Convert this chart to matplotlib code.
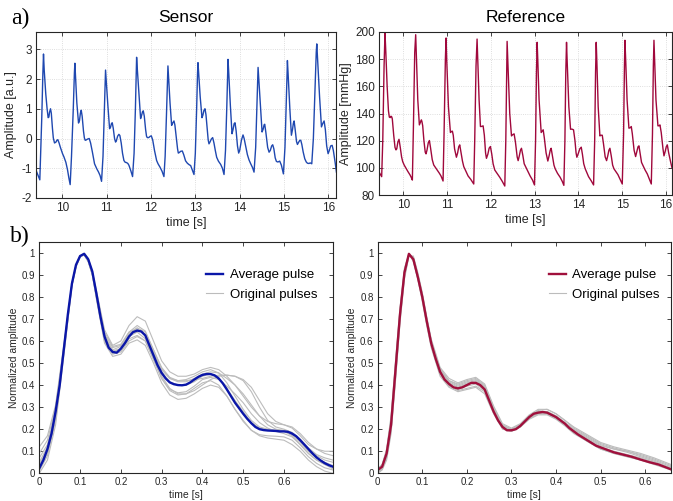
import matplotlib
matplotlib.use('Agg')
import matplotlib.pyplot as plt

plt.rcParams['font.family'] = ['Liberation Sans', 'DejaVu Sans']
plt.rcParams['axes.unicode_minus'] = False

# ---------------- top-left: sensor signal (time [s], amplitude [a.u.]) ----------------
sensor_t = [9.406, 9.45, 9.496, 9.54, 9.565, 9.579, 9.595, 9.63, 9.66, 9.684, 9.70, 9.715, 9.737,
            9.755, 9.78, 9.80, 9.827, 9.86, 9.88, 9.902, 9.93, 9.96, 10.008, 10.04, 10.083, 10.12,
            10.15, 10.180, 10.21, 10.25, 10.275, 10.286, 10.30, 10.33, 10.368, 10.39, 10.41, 10.429,
            10.45, 10.48, 10.50, 10.519, 10.54, 10.57, 10.609, 10.64, 10.68, 10.729, 10.78, 10.820,
            10.855, 10.887, 10.92, 10.95, 10.97, 10.977, 10.99, 11.03, 11.068, 11.09, 11.11, 11.128,
            11.15, 11.18, 11.203, 11.22, 11.25, 11.278, 11.30, 11.33, 11.36, 11.391, 11.42, 11.451,
            11.48, 11.504, 11.55, 11.586, 11.62, 11.65, 11.67, 11.677, 11.69, 11.73, 11.767, 11.79,
            11.81, 11.827, 11.85, 11.88, 11.90, 11.917, 11.95, 11.98, 12.008, 12.04, 12.08, 12.128,
            12.16, 12.203, 12.25, 12.293, 12.32, 12.35, 12.375, 12.383, 12.40, 12.43, 12.466, 12.49,
            12.519, 12.54, 12.57, 12.60, 12.617, 12.64, 12.67, 12.707, 12.74, 12.78, 12.820, 12.86,
            12.895, 12.93, 12.970, 13.00, 13.03, 13.05, 13.060, 13.075, 13.11, 13.150, 13.17, 13.195,
            13.218, 13.24, 13.27, 13.29, 13.308, 13.33, 13.36, 13.391, 13.42, 13.45, 13.481, 13.52,
            13.571, 13.61, 13.647, 13.68, 13.71, 13.73, 13.737, 13.75, 13.79, 13.827, 13.85, 13.875,
            13.895, 13.92, 13.95, 13.977, 14.00, 14.04, 14.075, 14.10, 14.14, 14.173, 14.21, 14.248,
            14.29, 14.323, 14.36, 14.39, 14.41, 14.414, 14.43, 14.47, 14.504, 14.53, 14.55, 14.564,
            14.59, 14.63, 14.662, 14.69, 14.72, 14.744, 14.77, 14.80, 14.827, 14.86, 14.902, 14.94,
            14.985, 15.02, 15.05, 15.07, 15.075, 15.09, 15.13, 15.165, 15.19, 15.21, 15.226, 15.25,
            15.28, 15.301, 15.33, 15.355, 15.376, 15.40, 15.43, 15.466, 15.50, 15.526, 15.56, 15.59,
            15.624, 15.66, 15.70, 15.725, 15.737, 15.75, 15.80, 15.842, 15.87, 15.902, 15.93, 15.96,
            15.992, 16.02, 16.05, 16.083, 16.11, 16.15, 16.180]
sensor_v = [-1.05, -1.22, -1.39, 0.7, 2.2, 2.84, 2.3, 1.5, 1.0, 0.70, 0.72, 0.88, 1.00,
            0.85, 0.35, 0.02, -0.15, -0.12, -0.06, -0.04, -0.15, -0.30, -0.51, -0.62, -0.80, -1.05,
            -1.32, -1.55, -0.6, 1.0, 2.2, 2.53, 2.1, 1.2, 0.52, 0.6, 0.85, 0.95,
            0.75, 0.25, 0.02, -0.06, -0.05, -0.02, 0.00, -0.15, -0.45, -0.85, -1.02, -1.13,
            -1.25, -1.44, -0.6, 0.9, 2.0, 2.30, 2.0, 1.1, 0.33, 0.38, 0.5, 0.53,
            0.35, 0.0, -0.12, -0.08, 0.08, 0.14, 0.1, -0.15, -0.5, -0.74, -0.8, -0.81,
            -0.84, -0.90, -1.1, -1.28, -0.5, 1.0, 2.4, 2.73, 2.4, 1.5, 0.67, 0.78,
            0.9, 0.93, 0.75, 0.3, 0.08, 0.03, 0.03, 0.07, 0.09, -0.05, -0.4, -0.74,
            -0.85, -0.96, -1.1, -1.28, -0.6, 0.8, 2.1, 2.44, 2.0, 1.2, 0.44, 0.52,
            0.59, 0.45, 0.05, -0.35, -0.49, -0.47, -0.43, -0.42, -0.55, -0.75, -0.83, -0.88,
            -0.91, -1.05, -1.21, -0.5, 1.0, 2.2, 2.55, 2.2, 1.4, 0.70, 0.78, 0.95,
            1.00, 0.8, 0.3, -0.05, -0.18, -0.12, -0.02, 0.03, -0.15, -0.4, -0.63, -0.76,
            -0.87, -1.0, -1.21, -0.4, 1.1, 2.3, 2.66, 2.3, 1.1, 0.16, 0.3, 0.5,
            0.53, 0.25, -0.25, -0.49, -0.4, -0.05, 0.12, 0.0, -0.3, -0.54, -0.72, -0.85,
            -0.98, -1.13, -0.3, 1.2, 2.1, 2.39, 2.0, 1.0, 0.22, 0.32, 0.46, 0.48,
            0.2, -0.3, -0.46, -0.4, -0.25, -0.21, -0.35, -0.65, -0.77, -0.79, -0.76, -0.9,
            -1.19, -0.3, 1.2, 2.3, 2.62, 2.2, 1.0, 0.11, 0.3, 0.52, 0.59, 0.3,
            -0.1, -0.20, -0.12, -0.06, -0.06, -0.2, -0.45, -0.68, -0.79, -0.83, -0.84, -0.82,
            -0.85, 0.0, 1.8, 2.9, 3.18, 2.8, 1.4, 0.39, 0.5, 0.59, 0.3, -0.25,
            -0.51, -0.4, -0.25, -0.23, -0.4, -0.8, -1.13]

# ---------------- top-right: reference pressure (time [s], mmHg) ----------------
ref_t = [9.444, 9.47, 9.505, 9.53, 9.56, 9.581, 9.60, 9.63, 9.66, 9.680, 9.70, 9.718, 9.735,
         9.748, 9.78, 9.81, 9.832, 9.85, 9.875, 9.901, 9.93, 9.96, 9.985, 10.02, 10.061, 10.10,
         10.152, 10.18, 10.206, 10.23, 10.26, 10.282, 10.30, 10.33, 10.366, 10.39, 10.412, 10.425,
         10.442, 10.47, 10.50, 10.518, 10.54, 10.57, 10.595, 10.62, 10.66, 10.694, 10.76, 10.823,
         10.86, 10.907, 10.93, 10.96, 10.976, 10.99, 11.03, 11.075, 11.10, 11.120, 11.14, 11.17,
         11.212, 11.24, 11.265, 11.288, 11.32, 11.35, 11.380, 11.43, 11.479, 11.54, 11.608, 11.63,
         11.66, 11.684, 11.70, 11.73, 11.761, 11.79, 11.822, 11.85, 11.878, 11.898, 11.93, 11.96,
         11.989, 12.02, 12.05, 12.088, 12.15, 12.203, 12.26, 12.317, 12.34, 12.36, 12.370, 12.39,
         12.43, 12.470, 12.50, 12.530, 12.56, 12.60, 12.622, 12.65, 12.675, 12.698, 12.73, 12.76,
         12.797, 12.85, 12.896, 12.95, 12.995, 13.02, 13.04, 13.056, 13.07, 13.10, 13.148, 13.17,
         13.194, 13.22, 13.26, 13.300, 13.33, 13.355, 13.376, 13.41, 13.44, 13.468, 13.52, 13.582,
         13.63, 13.666, 13.69, 13.71, 13.727, 13.74, 13.78, 13.819, 13.85, 13.887, 13.92, 13.945,
         13.963, 13.99, 14.03, 14.063, 14.09, 14.12, 14.154, 14.19, 14.230, 14.29, 14.345, 14.37,
         14.39, 14.405, 14.42, 14.45, 14.489, 14.515, 14.543, 14.57, 14.61, 14.642, 14.67, 14.695,
         14.718, 14.75, 14.78, 14.810, 14.86, 14.901, 14.95, 15.000, 15.03, 15.05, 15.061, 15.08,
         15.11, 15.152, 15.18, 15.206, 15.23, 15.27, 15.305, 15.33, 15.36, 15.381, 15.41, 15.44,
         15.473, 15.52, 15.572, 15.62, 15.663, 15.69, 15.71, 15.724, 15.74, 15.77, 15.815, 15.84,
         15.861, 15.89, 15.93, 15.953, 15.98, 16.005, 16.029, 16.06, 16.10, 16.136]
ref_v = [97, 95.5, 93.5, 120, 175, 199.3, 185, 160, 142, 137.3, 137, 138, 137.5,
         136, 124, 115, 113.2, 114, 119, 121, 115, 108, 104.6, 102, 99.7, 97.5,
         94.8, 93, 91, 130, 185, 198, 180, 150, 131.6, 133.5, 135.3, 134,
         131, 120, 111.5, 110.3, 113, 118.5, 120.1, 115, 106, 102.1, 99, 96,
         94, 90.3, 125, 180, 195.6, 180, 145, 126, 126.8, 127, 124, 114,
         107.8, 111, 115.5, 116.9, 111, 105, 100.9, 97.5, 94, 91.5, 88.1, 120,
         175, 194.8, 180, 150, 130.4, 130.5, 130.9, 124, 111, 107, 110, 114.5,
         115.7, 110, 103, 98.4, 95.5, 93, 90, 86.6, 120, 170, 193.1, 175,
         140, 123.5, 124.5, 125, 119, 108, 105.3, 109, 113, 114.4, 109, 103,
         100.5, 97, 94, 91, 87.4, 120, 170, 192.4, 180, 150, 126, 127,
         128, 122, 111, 105, 109, 113, 114.4, 108, 102, 99.3, 96, 93,
         90, 87.1, 120, 170, 192.4, 180, 145, 128.4, 128.5, 128, 120, 111,
         107.8, 110, 114, 115.2, 110, 103, 99.3, 96.5, 93.5, 90.5, 87.4, 120,
         170, 192.4, 178, 145, 123.5, 124, 124, 118, 108, 105.3, 109, 113,
         114.4, 108.5, 102, 99.3, 97, 95, 91.5, 88.1, 125, 175, 193.9, 178,
         150, 129.2, 129.5, 130.4, 125, 113, 108.3, 111.5, 115.5, 116.2, 110, 104,
         101.8, 98.5, 95.5, 91.5, 88.1, 125, 175, 193.9, 178, 150, 130.9, 131,
         131.6, 126, 114, 108.8, 112, 115.5, 116.9, 111, 105, 100]

# ---------------- bottom-left: sensor pulses ----------------
avg_s_t = [0, 0.01, 0.02, 0.03, 0.04, 0.05, 0.06, 0.07, 0.08, 0.09, 0.10, 0.11, 0.12,
           0.13, 0.14, 0.15, 0.16, 0.17, 0.18, 0.19, 0.20, 0.21, 0.22, 0.23, 0.24, 0.25,
           0.26, 0.27, 0.28, 0.29, 0.30, 0.31, 0.32, 0.33, 0.34, 0.35, 0.36, 0.37, 0.38,
           0.39, 0.40, 0.41, 0.42, 0.43, 0.44, 0.45, 0.46, 0.47, 0.48, 0.49, 0.50, 0.51,
           0.52, 0.53, 0.54, 0.55, 0.56, 0.57, 0.58, 0.59, 0.60, 0.61, 0.62, 0.63, 0.64,
           0.65, 0.66, 0.67, 0.68, 0.69, 0.70, 0.71, 0.72]
avg_s_v = [0.023, 0.06, 0.11, 0.18, 0.28, 0.40, 0.56, 0.72, 0.86, 0.945, 0.985, 0.995, 0.97,
           0.915, 0.815, 0.71, 0.62, 0.57, 0.55, 0.547, 0.565, 0.59, 0.62, 0.64, 0.647, 0.643,
           0.625, 0.58, 0.535, 0.49, 0.455, 0.43, 0.412, 0.404, 0.40, 0.399, 0.402, 0.412, 0.425,
           0.437, 0.446, 0.45, 0.45, 0.444, 0.43, 0.408, 0.38, 0.35, 0.32, 0.295, 0.27, 0.247,
           0.227, 0.21, 0.20, 0.196, 0.194, 0.193, 0.192, 0.19, 0.19, 0.188, 0.18, 0.168, 0.15,
           0.13, 0.11, 0.09, 0.072, 0.058, 0.046, 0.037, 0.03]

orig_s_t = [0, 0.02, 0.04, 0.06, 0.08, 0.09, 0.10, 0.11, 0.12, 0.13, 0.14, 0.16, 0.18, 0.20,
            0.22, 0.24, 0.26, 0.28, 0.30, 0.32, 0.34, 0.36, 0.38, 0.40, 0.42, 0.44, 0.46, 0.48,
            0.50, 0.52, 0.54, 0.56, 0.58, 0.60, 0.62, 0.64, 0.66, 0.68, 0.70, 0.72]
orig_s_1 = [0.12, 0.17, 0.31, 0.58, 0.86, 0.94, 0.98, 0.995, 0.97, 0.915, 0.83, 0.65, 0.58, 0.60, 0.67, 0.71, 0.69, 0.60, 0.51, 0.46, 0.44, 0.44, 0.45, 0.47, 0.48, 0.47, 0.44, 0.40, 0.35, 0.30, 0.26, 0.235, 0.225, 0.22, 0.205, 0.17, 0.13, 0.11, 0.10, 0.10]
orig_s_2 = [0.00, 0.06, 0.22, 0.53, 0.85, 0.94, 0.985, 0.99, 0.96, 0.90, 0.79, 0.59, 0.53, 0.54, 0.59, 0.605, 0.58, 0.50, 0.41, 0.355, 0.335, 0.34, 0.36, 0.385, 0.40, 0.39, 0.35, 0.29, 0.24, 0.195, 0.17, 0.16, 0.155, 0.15, 0.13, 0.10, 0.06, 0.03, 0.01, 0.00]
orig_s_3 = [0.03, 0.10, 0.26, 0.55, 0.86, 0.945, 0.985, 0.995, 0.965, 0.905, 0.81, 0.62, 0.555, 0.565, 0.62, 0.64, 0.61, 0.53, 0.44, 0.385, 0.36, 0.36, 0.375, 0.40, 0.425, 0.44, 0.445, 0.44, 0.42, 0.37, 0.30, 0.24, 0.21, 0.20, 0.185, 0.15, 0.11, 0.08, 0.06, 0.05]
orig_s_4 = [0.07, 0.13, 0.28, 0.57, 0.86, 0.94, 0.985, 0.995, 0.97, 0.91, 0.82, 0.63, 0.57, 0.58, 0.64, 0.67, 0.645, 0.56, 0.48, 0.435, 0.42, 0.425, 0.44, 0.46, 0.47, 0.455, 0.41, 0.35, 0.29, 0.24, 0.21, 0.20, 0.195, 0.19, 0.17, 0.13, 0.09, 0.06, 0.04, 0.03]
orig_s_5 = [0.01, 0.08, 0.24, 0.54, 0.85, 0.935, 0.985, 0.99, 0.96, 0.90, 0.80, 0.60, 0.54, 0.55, 0.60, 0.62, 0.60, 0.52, 0.43, 0.375, 0.355, 0.36, 0.385, 0.41, 0.42, 0.40, 0.35, 0.29, 0.235, 0.195, 0.175, 0.17, 0.168, 0.165, 0.15, 0.115, 0.075, 0.045, 0.025, 0.015]
orig_s_6 = [0.09, 0.15, 0.30, 0.57, 0.86, 0.945, 0.985, 0.998, 0.975, 0.915, 0.82, 0.64, 0.575, 0.585, 0.64, 0.655, 0.63, 0.55, 0.47, 0.43, 0.42, 0.42, 0.425, 0.43, 0.44, 0.445, 0.445, 0.44, 0.425, 0.39, 0.33, 0.27, 0.235, 0.22, 0.21, 0.18, 0.14, 0.11, 0.09, 0.08]
orig_s_7 = [0.04, 0.11, 0.27, 0.56, 0.86, 0.94, 0.985, 0.995, 0.965, 0.905, 0.81, 0.61, 0.55, 0.565, 0.63, 0.655, 0.63, 0.545, 0.46, 0.415, 0.40, 0.40, 0.415, 0.44, 0.45, 0.43, 0.385, 0.33, 0.28, 0.23, 0.205, 0.198, 0.195, 0.192, 0.175, 0.14, 0.10, 0.07, 0.05, 0.035]
orig_s_8 = [0.02, 0.09, 0.25, 0.55, 0.85, 0.935, 0.98, 0.99, 0.96, 0.90, 0.80, 0.60, 0.545, 0.555, 0.61, 0.625, 0.60, 0.515, 0.43, 0.38, 0.365, 0.37, 0.395, 0.425, 0.435, 0.425, 0.395, 0.36, 0.32, 0.27, 0.23, 0.205, 0.19, 0.18, 0.165, 0.13, 0.09, 0.06, 0.04, 0.02]
orig_s_9 = [0.05, 0.12, 0.28, 0.56, 0.86, 0.94, 0.985, 0.995, 0.965, 0.91, 0.81, 0.62, 0.56, 0.575, 0.635, 0.66, 0.64, 0.56, 0.475, 0.43, 0.415, 0.415, 0.43, 0.45, 0.46, 0.455, 0.43, 0.40, 0.36, 0.31, 0.26, 0.22, 0.20, 0.195, 0.185, 0.155, 0.115, 0.085, 0.07, 0.06]

# ---------------- bottom-right: reference pulses ----------------
avg_r_t = [0, 0.01, 0.02, 0.03, 0.04, 0.05, 0.06, 0.07, 0.08, 0.09, 0.10, 0.11, 0.12,
           0.13, 0.14, 0.15, 0.16, 0.17, 0.18, 0.19, 0.20, 0.21, 0.22, 0.23, 0.24, 0.25,
           0.26, 0.27, 0.28, 0.29, 0.30, 0.31, 0.32, 0.33, 0.34, 0.35, 0.36, 0.37, 0.38,
           0.39, 0.40, 0.41, 0.42, 0.43, 0.45, 0.47, 0.49, 0.51, 0.53, 0.55, 0.57, 0.59,
           0.61, 0.63, 0.658]
avg_r_v = [0.015, 0.03, 0.09, 0.22, 0.47, 0.72, 0.91, 0.995, 0.97, 0.89, 0.80, 0.69, 0.59,
           0.52, 0.46, 0.425, 0.405, 0.39, 0.385, 0.39, 0.40, 0.41, 0.41, 0.40, 0.38, 0.33,
           0.28, 0.24, 0.21, 0.195, 0.195, 0.20, 0.215, 0.235, 0.255, 0.27, 0.275, 0.278, 0.275,
           0.265, 0.255, 0.24, 0.225, 0.205, 0.175, 0.15, 0.125, 0.11, 0.095, 0.085, 0.075, 0.062,
           0.05, 0.04, 0.018]

orig_r_t = [0, 0.01, 0.02, 0.03, 0.04, 0.05, 0.06, 0.07, 0.08, 0.09, 0.10, 0.11, 0.12, 0.14,
            0.16, 0.18, 0.20, 0.22, 0.24, 0.26, 0.28, 0.30, 0.32, 0.34, 0.36, 0.38, 0.40, 0.42,
            0.44, 0.47, 0.50, 0.53, 0.56, 0.59, 0.62, 0.658]
orig_r_1 = [0.00, 0.02, 0.07, 0.19, 0.43, 0.69, 0.89, 0.99, 0.98, 0.90, 0.81, 0.70, 0.60, 0.47, 0.42, 0.40, 0.415, 0.425, 0.395, 0.29, 0.215, 0.20, 0.22, 0.26, 0.28, 0.28, 0.26, 0.23, 0.20, 0.165, 0.13, 0.11, 0.095, 0.075, 0.055, 0.025]
orig_r_2 = [0.02, 0.04, 0.11, 0.26, 0.51, 0.75, 0.93, 0.995, 0.96, 0.88, 0.78, 0.67, 0.57, 0.44, 0.39, 0.37, 0.38, 0.39, 0.36, 0.27, 0.20, 0.19, 0.21, 0.25, 0.27, 0.27, 0.25, 0.22, 0.185, 0.145, 0.11, 0.09, 0.075, 0.06, 0.04, 0.015]
orig_r_3 = [0.01, 0.025, 0.08, 0.21, 0.46, 0.71, 0.90, 0.99, 0.975, 0.90, 0.81, 0.70, 0.60, 0.475, 0.42, 0.405, 0.42, 0.43, 0.40, 0.30, 0.22, 0.20, 0.22, 0.26, 0.285, 0.29, 0.27, 0.24, 0.205, 0.17, 0.135, 0.115, 0.10, 0.08, 0.06, 0.03]
orig_r_4 = [0.015, 0.035, 0.10, 0.24, 0.49, 0.74, 0.92, 0.995, 0.965, 0.88, 0.79, 0.68, 0.58, 0.45, 0.395, 0.375, 0.385, 0.395, 0.37, 0.275, 0.205, 0.19, 0.21, 0.245, 0.265, 0.265, 0.245, 0.215, 0.18, 0.145, 0.11, 0.09, 0.075, 0.06, 0.045, 0.02]
orig_r_5 = [0.005, 0.02, 0.075, 0.20, 0.44, 0.70, 0.90, 0.99, 0.975, 0.895, 0.80, 0.70, 0.60, 0.465, 0.41, 0.39, 0.405, 0.415, 0.385, 0.285, 0.21, 0.195, 0.215, 0.255, 0.275, 0.275, 0.255, 0.225, 0.195, 0.16, 0.125, 0.11, 0.10, 0.085, 0.065, 0.035]
orig_r_6 = [0.02, 0.04, 0.10, 0.25, 0.50, 0.74, 0.92, 0.995, 0.965, 0.885, 0.795, 0.685, 0.585, 0.455, 0.40, 0.38, 0.395, 0.405, 0.375, 0.28, 0.21, 0.195, 0.21, 0.25, 0.27, 0.27, 0.25, 0.22, 0.19, 0.15, 0.115, 0.095, 0.08, 0.065, 0.05, 0.02]
orig_r_7 = [0.01, 0.03, 0.09, 0.22, 0.47, 0.72, 0.91, 0.995, 0.97, 0.895, 0.805, 0.70, 0.60, 0.47, 0.415, 0.395, 0.41, 0.42, 0.39, 0.29, 0.215, 0.20, 0.22, 0.26, 0.28, 0.28, 0.26, 0.23, 0.195, 0.155, 0.12, 0.10, 0.085, 0.07, 0.05, 0.022]
orig_r_8 = [0.00, 0.015, 0.06, 0.18, 0.42, 0.68, 0.88, 0.985, 0.985, 0.91, 0.82, 0.71, 0.61, 0.48, 0.43, 0.41, 0.425, 0.435, 0.405, 0.305, 0.225, 0.205, 0.225, 0.265, 0.29, 0.29, 0.27, 0.24, 0.21, 0.175, 0.14, 0.12, 0.105, 0.09, 0.07, 0.04]

orig_s = [orig_s_1, orig_s_2, orig_s_3, orig_s_4, orig_s_5, orig_s_6, orig_s_7, orig_s_8, orig_s_9]
orig_r = [orig_r_1, orig_r_2, orig_r_3, orig_r_4, orig_r_5, orig_r_6, orig_r_7, orig_r_8]

AXC = '#262626'
BLUE_TOP = '#1f48b0'
RED_TOP = '#a0083c'
BLUE_AVG = '#0a16a8'
RED_AVG = '#a0103c'
GREY = '#bcbcbc'

W, H = 673, 501
fig = plt.figure(figsize=(W / 100, H / 100), dpi=100)


def px_axes(x0, y0, x1, y1):
    return fig.add_axes([x0 / W, 1 - y1 / H, (x1 - x0) / W, (y1 - y0) / H])


def style(ax, tick_fs):
    for s in ax.spines.values():
        s.set_color(AXC)
        s.set_linewidth(0.8)
    ax.tick_params(direction='in', length=3, width=0.6, colors=AXC,
                   labelsize=tick_fs, top=True, right=True, pad=3)


# top-left
ax1 = px_axes(36, 32, 336, 198)
ax1.plot(sensor_t, sensor_v, color=BLUE_TOP, lw=1.0)
ax1.set_xlim(9.41, 16.17)
ax1.set_ylim(-2, 3.58)
ax1.set_xticks(range(10, 17))
ax1.set_yticks(range(-2, 4))
ax1.grid(True, linestyle=':', color='#d4d4d4', linewidth=0.6)
style(ax1, 8.5)
ax1.set_title('Sensor', fontsize=12.5, color='black', pad=7)
ax1.set_xlabel('time [s]', fontsize=9, color=AXC, labelpad=2)
ax1.set_ylabel('Amplitude [a.u.]', fontsize=9, color=AXC, labelpad=3)

# top-right
ax2 = px_axes(379, 32, 672, 195)
ax2.plot(ref_t, ref_v, color=RED_TOP, lw=1.0)
ax2.set_xlim(9.444, 16.136)
ax2.set_ylim(80, 200)
ax2.set_xticks(range(10, 17))
ax2.set_yticks(range(80, 201, 20))
ax2.grid(True, linestyle=':', color='#d4d4d4', linewidth=0.6)
style(ax2, 8.5)
ax2.set_title('Reference', fontsize=12.5, color='black', pad=7)
ax2.set_xlabel('time [s]', fontsize=9, color=AXC, labelpad=2)
ax2.set_ylabel('Amplitude [mmHg]', fontsize=9, color=AXC, labelpad=2)

# bottom-left
ax3 = px_axes(39.3, 241.7, 333.3, 473.3)
for i, g in enumerate(orig_s):
    ax3.plot(orig_s_t, g, color=GREY, lw=0.8,
             label='Original pulses' if i == 0 else None)
ax3.plot(avg_s_t, avg_s_v, color=BLUE_AVG, lw=1.7, label='Average pulse')
ax3.set_xlim(0, 0.721)
ax3.set_ylim(0, 1.05)
ax3.set_xticks([0, 0.1, 0.2, 0.3, 0.4, 0.5, 0.6])
ax3.set_xticklabels(['0', '0.1', '0.2', '0.3', '0.4', '0.5', '0.6'])
ax3.set_yticks([i / 10 for i in range(11)])
ax3.set_yticklabels(['0'] + ['0.%d' % i for i in range(1, 10)] + ['1'])
style(ax3, 7)
ax3.set_xlabel('time [s]', fontsize=7.5, color=AXC, labelpad=2)
ax3.set_ylabel('Normalized amplitude', fontsize=7.5, color=AXC, labelpad=2)
h, l = ax3.get_legend_handles_labels()
ax3.legend(h[::-1], l[::-1], loc='upper left', bbox_to_anchor=(0.55, 0.905),
           frameon=False, fontsize=9.5, handlelength=1.3, handletextpad=0.5,
           labelspacing=0.55, borderaxespad=0)

# bottom-right
ax4 = px_axes(377.7, 241.7, 671, 473.3)
for i, g in enumerate(orig_r):
    ax4.plot(orig_r_t, g, color=GREY, lw=0.8,
             label='Original pulses' if i == 0 else None)
ax4.plot(avg_r_t, avg_r_v, color=RED_AVG, lw=1.7, label='Average pulse')
ax4.set_xlim(0, 0.658)
ax4.set_ylim(0, 1.05)
ax4.set_xticks([0, 0.1, 0.2, 0.3, 0.4, 0.5, 0.6])
ax4.set_xticklabels(['0', '0.1', '0.2', '0.3', '0.4', '0.5', '0.6'])
ax4.set_yticks([i / 10 for i in range(11)])
ax4.set_yticklabels(['0'] + ['0.%d' % i for i in range(1, 10)] + ['1'])
style(ax4, 7)
ax4.set_xlabel('time [s]', fontsize=7.5, color=AXC, labelpad=2)
ax4.set_ylabel('Normalized amplitude', fontsize=7.5, color=AXC, labelpad=2)
h, l = ax4.get_legend_handles_labels()
ax4.legend(h[::-1], l[::-1], loc='upper left', bbox_to_anchor=(0.565, 0.905),
           frameon=False, fontsize=9.5, handlelength=1.3, handletextpad=0.5,
           labelspacing=0.55, borderaxespad=0)

fig.text(20 / W, 1 - 18 / H, 'a)', fontsize=17, family=['Liberation Serif', 'DejaVu Serif'],
         ha='center', va='center')
fig.text(20 / W, 1 - 236 / H, 'b)', fontsize=17, family=['Liberation Serif', 'DejaVu Serif'],
         ha='center', va='center')

fig.savefig('out.png', dpi=100)
